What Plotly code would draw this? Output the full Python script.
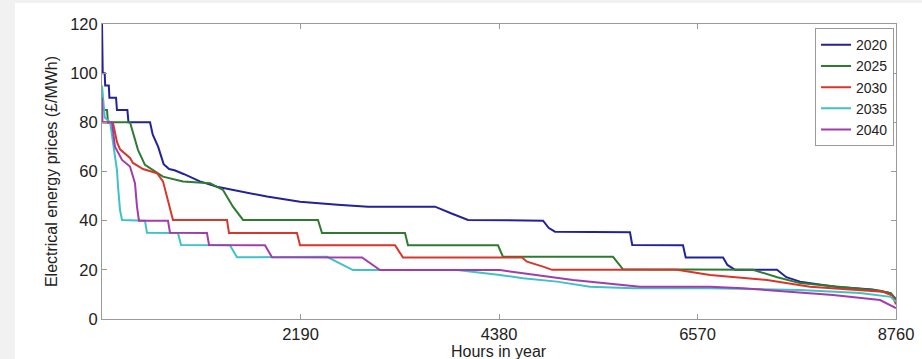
import plotly.graph_objects as go

# ---- data ----
years = ["2020", "2025", "2030", "2035", "2040"]

hours_2020 = [0, 8, 30, 35, 75, 82, 155, 165, 280, 292, 530, 560, 620, 680, 740, 800, 900, 1080, 1270,
              1500, 1820, 2185, 2240, 2600, 2935, 3674, 3850, 4038, 4866, 4930, 4998, 5825, 5850, 6410,
              6440, 6852, 6900, 6984, 7447, 7550, 7701, 8087, 8500, 8700, 8760]
price_2020 = [120, 100, 100, 95, 95, 90, 90, 85, 85, 80, 80, 75, 70, 63, 61, 60.5, 59, 56, 53.8,
              52, 49.8, 47.7, 47.5, 46.5, 45.7, 45.7, 43, 40.3, 40, 37, 35.5, 35.3, 30.1, 30,
              25, 25, 22, 20, 20, 17, 15.2, 13.1, 12, 10.5, 8]

hours_2025 = [0, 55, 66, 309, 397, 474, 673, 894, 1192, 1335, 1445, 1556, 2383, 2427, 3343, 3376,
              4369, 4424, 5638, 5748, 7182, 7450, 7701, 8200, 8584, 8700, 8760]
price_2025 = [85, 85, 80, 80, 68.8, 62.7, 57.9, 55.9, 55.2, 52.5, 45.7, 40.3, 40.3, 35, 35, 30,
              30, 25.3, 25.3, 20.2, 20, 17, 14.6, 12.8, 11.5, 10.5, 8]

hours_2030 = [0, 121, 165, 199, 309, 342, 452, 607, 673, 728, 783, 1379, 1401, 2151, 2185, 3233,
              3321, 4634, 4689, 4866, 4965, 6344, 6598, 6708, 7337, 7811, 8617, 8720, 8760]
price_2030 = [80, 79.7, 72, 69, 65.5, 63.5, 61, 59.3, 56, 48.4, 40.3, 40.3, 35, 35, 30, 30,
              25, 25, 23.3, 21.3, 20, 20, 18.6, 17.9, 15.9, 13.1, 11.1, 9.5, 6]

hours_2035 = [0, 30, 90, 143, 165, 177, 199, 221, 474, 496, 838, 872, 1412, 1489, 2482, 2769,
              3917, 4391, 4645, 5020, 5384, 5859, 6708, 7701, 8363, 8700, 8760]
price_2035 = [95, 82, 80, 65, 60.6, 53.8, 44.3, 40.3, 40, 35.1, 35, 30.1, 30, 25.1, 25.3, 19.9,
              19.9, 17.9, 16.6, 15.2, 13.1, 12.5, 12.5, 11.8, 10.6, 9, 7]

hours_2040 = [0, 5, 110, 143, 221, 309, 364, 386, 408, 728, 750, 1158, 1181, 1798, 1876, 2869,
              3067, 4391, 4645, 5197, 5936, 6708, 7072, 8065, 8584, 8760]
price_2040 = [90, 80, 80, 70.1, 64.7, 62, 55.2, 45.7, 40, 40, 35.1, 35, 30.1, 30, 25.1, 25,
              19.9, 19.9, 18.6, 15.9, 13.1, 13.1, 12.5, 9.8, 7.7, 4.4]

x_tick_vals = [2190, 4380, 6570, 8760]
x_tick_text = ["2190", "4380", "6570", "8760"]
y_tick_vals = [0, 20, 40, 60, 80, 100, 120]
x_title = "Hours in year"
y_title = "Electrical energy prices (£/MWh)"

series_x = [hours_2020, hours_2025, hours_2030, hours_2035, hours_2040]
series_y = [price_2020, price_2025, price_2030, price_2035, price_2040]
colors = ["#22229c", "#2e7b30", "#d8362a", "#3fc2c6", "#a23cae"]

FONT = "Liberation Sans, Arial, sans-serif"

fig = go.Figure()
for name, xs, ys, c in zip(years, series_x, series_y, colors):
    fig.add_trace(go.Scatter(x=xs, y=ys, mode="lines", name=name,
                             line=dict(color=c, width=2)))

axis_common = dict(showgrid=False, zeroline=False, showline=True, linecolor="#9a9a9a",
                   linewidth=1, mirror="allticks", ticks="inside", ticklen=5,
                   tickcolor="#9a9a9a", automargin=False,
                   tickfont=dict(family=FONT, size=16.5, color="#222"))

fig.update_layout(
    width=922, height=359,
    margin=dict(l=102, r=26, t=24, b=40, autoexpand=False),
    paper_bgcolor="#f1f1f1",
    plot_bgcolor="white",
    font=dict(family=FONT, color="#222"),
    xaxis=dict(range=[0, 8760], tickvals=x_tick_vals, ticktext=x_tick_text, **axis_common),
    yaxis=dict(range=[0, 120], tickvals=y_tick_vals,
               title=dict(text=y_title, font=dict(family=FONT, size=16, color="#222"), standoff=8),
               **axis_common),
    legend=dict(x=0.9975, y=0.986, xanchor="right", yanchor="top",
                bgcolor="white", bordercolor="#9a9a9a", borderwidth=1,
                font=dict(family=FONT, size=14, color="#222"),
                itemwidth=30, tracegroupgap=0),
    annotations=[dict(text=x_title, xref="paper", yref="paper", x=0.5, y=0,
                      xanchor="center", yanchor="top", yshift=-22, showarrow=False,
                      font=dict(family=FONT, size=16, color="#222"))],
    shapes=[dict(type="rect", xref="paper", yref="paper", layer="below",
                 x0=-0.1096, x1=1.2, y0=-0.3, y1=1.071,
                 fillcolor="white", line=dict(width=0))],
)

fig.write_html("out.html", config={"displayModeBar": False},
               post_script="document.body.style.margin='0';document.body.style.padding='0';")
